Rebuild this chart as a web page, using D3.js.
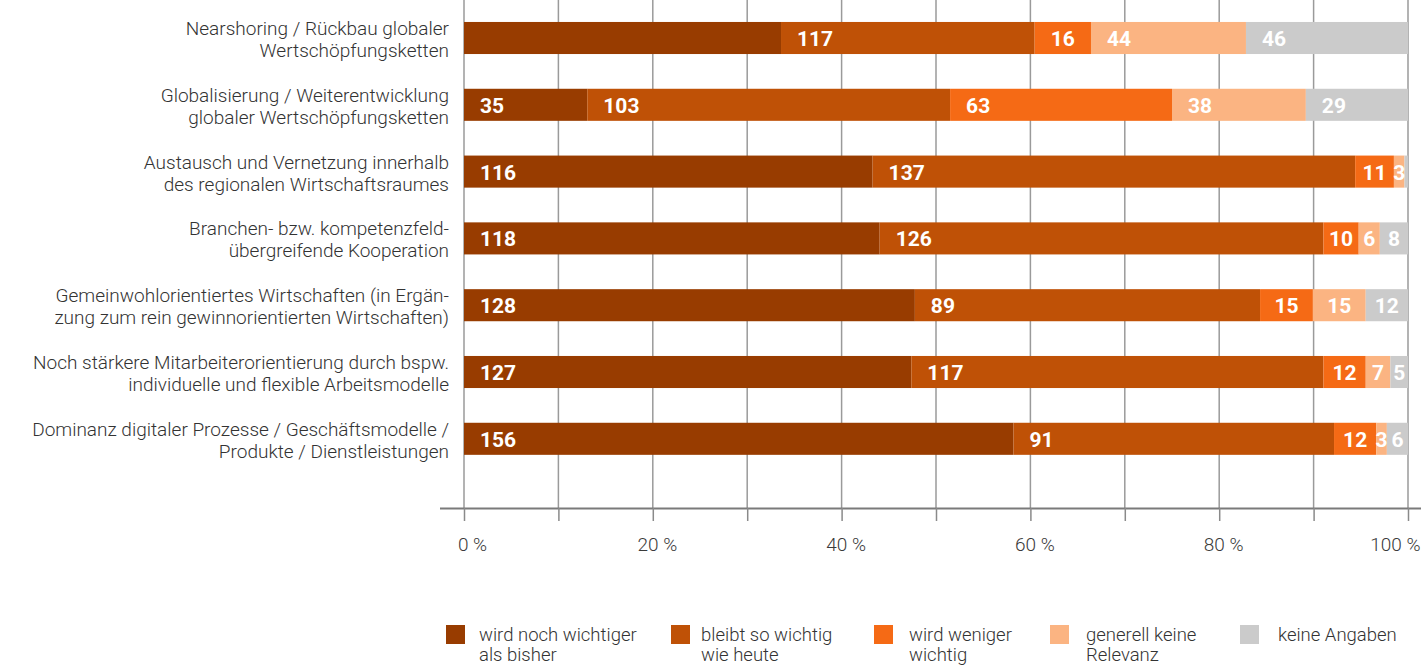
<!DOCTYPE html>
<html>
<head>
<meta charset="utf-8">
<script src="https://cdn.jsdelivr.net/npm/d3@7"></script>
<style>
  html, body { margin: 0; padding: 0; background: #fff; }
  svg { display: block; }
</style>
</head>
<body>
<svg id="chart" width="1421" height="665"></svg>
<script>
// ---------- DATA ----------
const categories = [
  ["Nearshoring / Rückbau globaler", "Wertschöpfungsketten"],
  ["Globalisierung / Weiterentwicklung", "globaler Wertschöpfungsketten"],
  ["Austausch und Vernetzung innerhalb", "des regionalen Wirtschaftsraumes"],
  ["Branchen- bzw. kompetenzfeld-", "übergreifende Kooperation"],
  ["Gemeinwohlorientiertes Wirtschaften (in Ergän-", "zung zum rein gewinnorientierten Wirtschaften)"],
  ["Noch stärkere Mitarbeiterorientierung durch bspw.", "individuelle und flexible Arbeitsmodelle"],
  ["Dominanz digitaler Prozesse / Geschäftsmodelle /", "Produkte / Dienstleistungen"]
];
const seriesNames = [
  ["wird noch wichtiger", "als bisher"],
  ["bleibt so wichtig", "wie heute"],
  ["wird weniger", "wichtig"],
  ["generell keine", "Relevanz"],
  ["keine Angaben"]
];
// segment sizes
const wichtiger   = [90, 35, 116, 118, 128, 127, 156];
const bleibt      = [72, 103, 137, 126, 98, 117, 91];
const weniger     = [16, 63, 11, 10, 15, 12, 12];
const keineRelev  = [44, 38, 3, 6, 15, 7, 3];
const keineAngab  = [46, 29, 1, 8, 12, 5, 6];
// numbers printed on the segments (as shown in the original)
const lblWichtiger  = ["", "35", "116", "118", "128", "127", "156"];
const lblBleibt     = ["117", "103", "137", "126", "89", "117", "91"];
const lblWeniger    = ["16", "63", "11", "10", "15", "12", "12"];
const lblKeineRelev = ["44", "38", "3", "6", "15", "7", "3"];
const lblKeineAngab = ["46", "29", "", "8", "12", "5", "6"];
const tickValues = [0, 0.1, 0.2, 0.3, 0.4, 0.5, 0.6, 0.7, 0.8, 0.9, 1.0];
const tickLabels = ["0 %", "", "20 %", "", "40 %", "", "60 %", "", "80 %", "", "100 %"];
const colors = ["#983c00", "#bf5106", "#f56a15", "#fbb482", "#cbcbcb"];

// ---------- BUILD ----------
const seriesValues = [wichtiger, bleibt, weniger, keineRelev, keineAngab];
const seriesLabels = [lblWichtiger, lblBleibt, lblWeniger, lblKeineRelev, lblKeineAngab];
const rows = categories.map((c, i) => {
  const o = { idx: i };
  seriesValues.forEach((s, k) => { o["s" + k] = s[i]; });
  return o;
});
const keys = seriesValues.map((s, k) => "s" + k);
const stack = d3.stack().keys(keys).offset(d3.stackOffsetExpand);
const stacked = stack(rows);

const svg = d3.select("#chart");
const fontMain = "Roboto, 'Noto Sans', sans-serif";

const x = d3.scaleLinear().domain([0, 1]).range([464, 1408]);
const y = d3.scaleBand().domain(d3.range(categories.length))
  .range([4.6, 472.2]).paddingInner(0.52).paddingOuter(0.26);

const axisY = 508;

// gridlines
svg.append("g").selectAll("line").data(tickValues).join("line")
  .attr("x1", d => x(d)).attr("x2", d => x(d))
  .attr("y1", 0).attr("y2", axisY)
  .attr("stroke", "#9a9a9a").attr("stroke-width", 1.5);

// axis
const axis = d3.axisBottom(x).tickValues(tickValues)
  .tickSize(13).tickPadding(0)
  .tickFormat((d, i) => tickLabels[i]);
const gAxis = svg.append("g").attr("transform", `translate(0,${axisY})`).call(axis);
gAxis.select(".domain").attr("stroke", "#7a7a7a").attr("stroke-width", 2)
  .attr("d", `M${x(0) - 24},0.5H${x(1) + 13}`);
gAxis.selectAll(".tick line").attr("stroke", "#8a8a8a").attr("stroke-width", 1.5);
gAxis.selectAll(".tick text")
  .attr("y", 43).attr("dy", 0)
  .attr("fill", "#3a3a3a")
  .style("font-family", fontMain).style("font-size", "19px").style("font-weight", 300);
gAxis.selectAll(".tick text").each(function (d, i) {
  const t = d3.select(this);
  if (i === 0) t.attr("dx", 8);
  else if (i === tickValues.length - 1) t.attr("text-anchor", "end").attr("dx", 1420 - x(d));
  else t.attr("dx", 4);
});

// bars
const layers = svg.append("g").selectAll("g").data(stacked).join("g")
  .attr("fill", (d, k) => colors[k]);
layers.selectAll("rect").data(d => d).join("rect")
  .attr("x", d => x(d[0]))
  .attr("width", d => x(d[1]) - x(d[0]))
  .attr("y", (d, i) => y(i))
  .attr("height", y.bandwidth());

// segment labels
const lblG = svg.append("g");
stacked.forEach((layer, k) => {
  layer.forEach((d, i) => {
    const txt = seriesLabels[k][i];
    if (!txt) return;
    const x0 = x(d[0]), w = x(d[1]) - x(d[0]);
    const t = lblG.append("text")
      .text(txt)
      .attr("y", y(i) + y.bandwidth() / 2 + 8)
      .attr("fill", "#fff")
      .style("font-family", fontMain).style("font-size", "21px").style("font-weight", 700);
    const tw = t.node().getComputedTextLength();
    if (w > 70) t.attr("x", x0 + 16);
    else t.attr("x", x0 + (w - tw) / 2);
  });
});

// category labels
const catG = svg.append("g");
categories.forEach((lines, i) => {
  const cy = y(i) + y.bandwidth() / 2;
  const t = catG.append("text")
    .attr("text-anchor", "end")
    .attr("fill", "#333")
    .style("font-family", fontMain).style("font-size", "19px").style("font-weight", 300);
  lines.forEach((ln, j) => {
    t.append("tspan").attr("x", 449).attr("y", cy - 3 + j * 22).text(ln);
  });
});

// legend
const legendX = [446, 671, 874, 1050, 1240];
const legendTextX = [479, 701, 909, 1086, 1278];
const lg = svg.append("g");
seriesNames.forEach((lines, k) => {
  lg.append("rect").attr("x", legendX[k]).attr("y", 625)
    .attr("width", 19).attr("height", 19).attr("fill", colors[k]);
  const t = lg.append("text").attr("fill", "#333")
    .style("font-family", fontMain).style("font-size", "18.5px").style("font-weight", 300);
  lines.forEach((ln, j) => {
    t.append("tspan").attr("x", legendTextX[k]).attr("y", 641 + j * 20).text(ln);
  });
});
</script>
</body>
</html>
